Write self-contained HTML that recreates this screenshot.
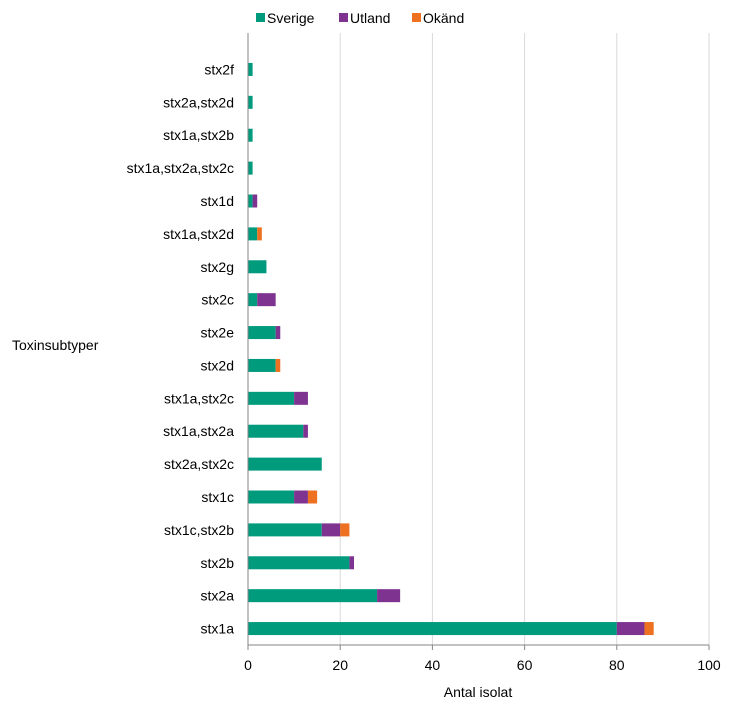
<!DOCTYPE html>
<html><head><meta charset="utf-8"><style>
body{margin:0;background:#fff;font-family:"Liberation Sans",sans-serif;}
svg text{font-family:"Liberation Sans",sans-serif;fill:#000;}
</style></head><body>
<svg id="chart" width="737" height="715">
<g id="legend">
<g><rect x="256" y="13" width="9" height="9" fill="#009b7d"/><text x="267" y="23" font-size="14">Sverige</text></g>
<g><rect x="339" y="13" width="9" height="9" fill="#7f3391"/><text x="350" y="23" font-size="14">Utland</text></g>
<g><rect x="412" y="13" width="9" height="9" fill="#ed7121"/><text x="423" y="23" font-size="14">Okänd</text></g>
</g>
<text x="12" y="350" font-size="14">Toxinsubtyper</text>
<text x="478" y="697" font-size="14" text-anchor="middle">Antal isolat</text>
<g id="grid"></g><g id="bars"></g><g id="axes"></g>
</svg>
<script>
const categories=["stx2f","stx2a,stx2d","stx1a,stx2b","stx1a,stx2a,stx2c","stx1d","stx1a,stx2d","stx2g","stx2c","stx2e","stx2d","stx1a,stx2c","stx1a,stx2a","stx2a,stx2c","stx1c","stx1c,stx2b","stx2b","stx2a","stx1a"];
const sverige=[1,1,1,1,1,2,4,2,6,6,10,12,16,10,16,22,28,80];
const utland=[0,0,0,0,1,0,0,4,1,0,3,1,0,3,4,1,5,6];
const okand=[0,0,0,0,0,1,0,0,0,1,0,0,0,2,2,0,0,2];
const xTicks=[0,20,40,60,80,100];
const NS="http://www.w3.org/2000/svg";
const x0=248,x1=709,yTop=53,yBot=645;
const xs=v=>x0+(v/100)*(x1-x0);
const band=(yBot-yTop)/categories.length;
const yc=i=>yTop+band*(i+0.5);
function mk(t,a,p){const e=document.createElementNS(NS,t);for(const k in a)e.setAttribute(k,a[k]);p.appendChild(e);return e;}
const grid=document.getElementById('grid'),bars=document.getElementById('bars'),axes=document.getElementById('axes');
xTicks.forEach(t=>{
 if(t>0){const g=mk('line',{x1:xs(t),x2:xs(t),y1:yTop-20,y2:yBot,stroke:'#d9d9d9'},grid);
 
 }
 const l=mk('text',{x:xs(t),y:yBot+25,'font-size':14,'text-anchor':'middle'},axes);l.textContent=t;
 
 
 const tk=mk('line',{x1:xs(t),x2:xs(t),y1:yBot,y2:yBot+5,stroke:'#868686'},axes);
 
 
});
const ax=mk('line',{x1:x0,x2:x0,y1:yTop-20,y2:yBot,stroke:'#868686'},axes);


const bx=mk('line',{x1:x0,x2:x1,y1:yBot,y2:yBot,stroke:'#868686'},axes);


const series=[[sverige,'#009b7d','sverige'],[utland,'#7f3391','utland'],[okand,'#ed7121','okand']];
categories.forEach((c,i)=>{
 const lab=mk('text',{x:234,y:yc(i)+5,'font-size':14,'text-anchor':'end'},axes);lab.textContent=c;
 
 
 let acc=0;
 series.forEach(([arr,col,nm])=>{
  const v=arr[i];if(v>0){
   const r=mk('rect',{x:xs(acc),y:yc(i)-6.5,width:xs(acc+v)-xs(acc),height:13,fill:col},bars);
   
   
  }acc+=v;});
});
</script>
</body></html>
